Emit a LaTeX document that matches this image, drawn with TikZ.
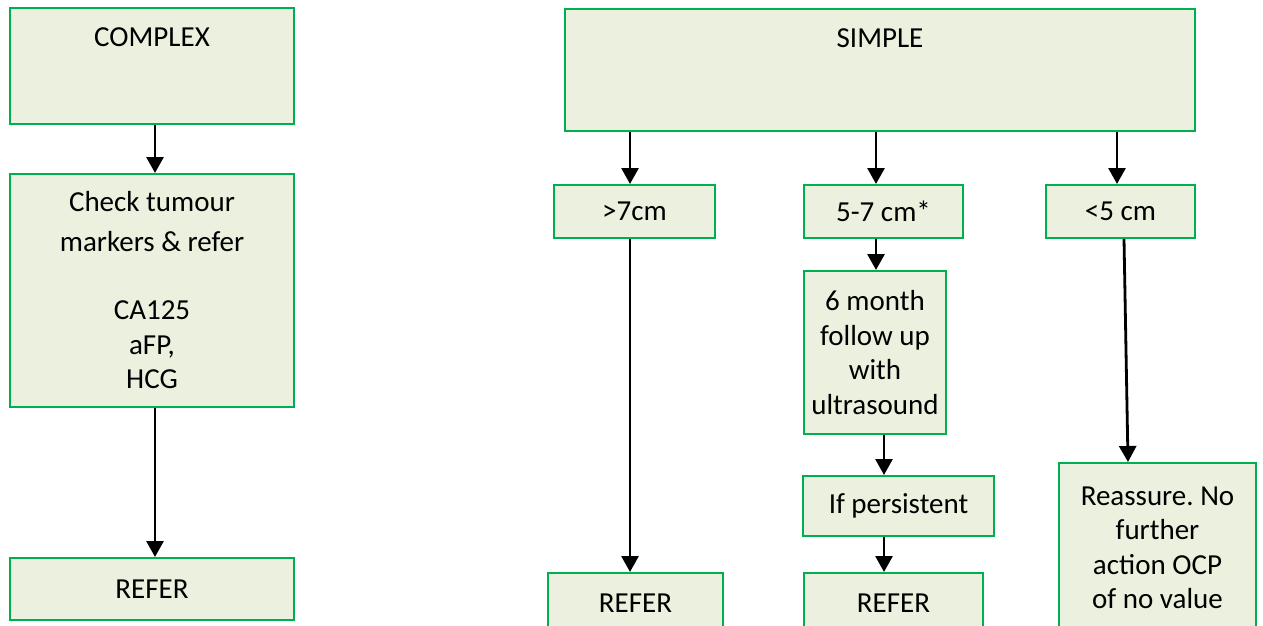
\documentclass[tikz,border=0pt]{standalone}
\usepackage{fontspec}
\setmainfont{Carlito}
\frenchspacing
\usetikzlibrary{arrows.meta}
\definecolor{boxgreen}{HTML}{00B050}
\definecolor{boxfill}{HTML}{EBF1DE}
\begin{document}
\begin{tikzpicture}
[x=1pt,y=-1pt,font=\fontsize{29}{34.5}\selectfont,
  boxdecorate/.style={shape=rectangle,draw=boxgreen,fill=boxfill,line width=2pt,inner sep=0pt,align=center},%
  arrowdecorate/.style={-{Triangle[width=17pt,length=16pt]},line width=2.8pt}]
\clip (0,0) rectangle (1263,626);
%% top boxes, text near the top
\node (complex) at (152,7) [boxdecorate,anchor=north,minimum width=284pt,text height=39pt,text depth=77pt] {COMPLEX};
\node (simple) at (880,8) [boxdecorate,anchor=north,minimum width=630pt,text height=39pt,text depth=83pt] {SIMPLE};
%% other boxes
\foreach \nodename/\x/\y/\w/\h/\txt in {
  check/152/290.5/284/233/{Check tumour\\[5pt]markers \& refer\\[34pt]CA125\\aFP,\\HCG},
  referA/152/589/284/62/{REFER},
  gtseven/634.5/211.5/161/53/{>7cm},
  midsize/883.5/211.5/159/53/{5-7 cm*},
  ltfive/1120.5/211.5/149/53/{<5 cm},
  followup/875/352.5/142/163/{6 month\\follow up\\with\\ultrasound},
  persist/898.5/506/191/60/{If persistent},
  referB/635.5/603/175/60/{REFER},
  referC/893.5/603/179/60/{REFER},
  reassure/1157.5/548/197/170/{Reassure. No\\further\\action OCP\\of no value}} {
  \node (\nodename) at (\x,\y) [boxdecorate,minimum width=\w pt,minimum height=\h pt] {\txt};
}
%% arrows
\foreach \startnode/\endnode/\xa/\xb in {complex/check/155/155, check/referA/155/155,
  simple/gtseven/630/630, simple/midsize/876/876, simple/ltfive/1117/1117,
  gtseven/referB/630/630, midsize/followup/876/876, followup/persist/884/884,
  persist/referC/884/884, ltfive/reassure/1124/1128} {
  \draw[arrowdecorate] (\startnode.south -| \xa,0) -- (\endnode.north -| \xb,0);
}
\end{tikzpicture}
\end{document}
